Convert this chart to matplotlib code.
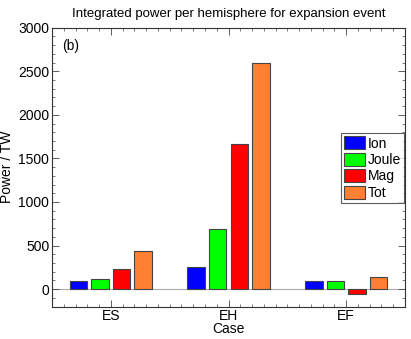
import numpy as np
import matplotlib
matplotlib.use('Agg')
import matplotlib.pyplot as plt
from matplotlib.ticker import MultipleLocator

cases = ['ES', 'EH', 'EF']
series = ['Ion', 'Joule', 'Mag', 'Tot']
ion = [95, 255, 95]
joule = [115, 690, 90]
mag = [225, 1660, -55]
tot = [435, 2600, 135]
colors = ['#0000ff', '#00ff00', '#ff0000', '#ff8033']

plt.rcParams['font.family'] = ['Liberation Sans', 'DejaVu Sans']
plt.rcParams['font.size'] = 10

fig = plt.figure(figsize=(4.11, 3.39), dpi=100)
ax = fig.add_axes([52/411, 1 - 306.5/339, 353/411, 278.8/339])

x = np.arange(len(cases))
offsets = [-0.275, -0.092, 0.092, 0.275]
for vals, off, col, name in zip([ion, joule, mag, tot], offsets, colors, series):
    ax.bar(x + off, vals, width=0.15, color=col, edgecolor='#444444', linewidth=0.8, label=name)

ax.axhline(0, color='#aaaaaa', linewidth=0.8, zorder=0)
ax.set_xlim(-0.5, 2.5)
ax.set_ylim(-200, 3000)
ax.set_xticks(x)
ax.set_xticklabels(cases)
ax.xaxis.set_minor_locator(MultipleLocator(0.1))
ax.yaxis.set_major_locator(MultipleLocator(500))
ax.yaxis.set_minor_locator(MultipleLocator(100))
ax.tick_params(which='both', direction='in', top=True, right=True, color='#444444')
ax.tick_params(which='major', length=5, width=0.6, pad=2)
ax.tick_params(which='minor', length=2.5, width=0.5)
ax.tick_params(axis='x', pad=2)
for s in ax.spines.values():
    s.set_color('#333333')
    s.set_linewidth(0.8)

ax.set_xlabel('Case', labelpad=-1)
ax.set_ylabel('Power / TW', labelpad=3)
ax.set_title('Integrated power per hemisphere for expansion event', fontsize=9.5, pad=8, x=0.5)
ax.text(0.03, 0.96, '(b)', transform=ax.transAxes, va='top', ha='left')

leg = ax.legend(loc='upper left', bbox_to_anchor=(0.819, 0.621), frameon=True, fancybox=False,
                handlelength=1.5, handleheight=1.1, handletextpad=0.2, borderpad=0.2,
                labelspacing=0.15, borderaxespad=0)
leg.get_frame().set_edgecolor('#333333')
leg.get_frame().set_linewidth(0.8)

fig.savefig('out.png', dpi=100)
